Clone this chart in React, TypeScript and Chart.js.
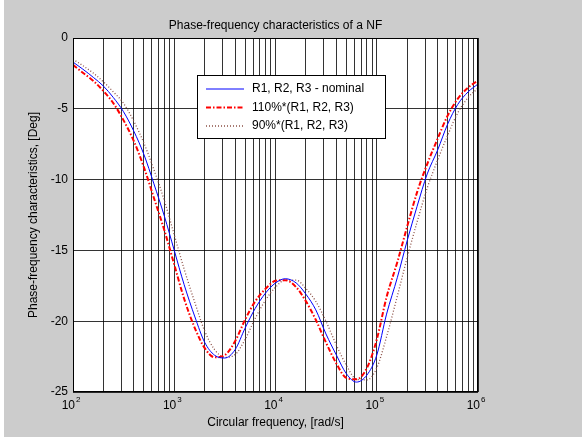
import { useEffect, useRef } from 'react';
import { Chart, registerables } from 'chart.js';

Chart.register(...registerables);

// Circular frequency, rad/s (approx. 0.1-decade steps)
const freqs = [
  100, 125, 160, 200, 250, 315, 400, 500, 630, 800,
  1000, 1250, 1600, 2000, 2500, 3150, 4000, 5000, 6300, 8000,
  10000, 12500, 16000, 20000, 25000, 31500, 40000, 50000, 63000, 80000,
  100000, 125000, 160000, 200000, 250000, 315000, 400000, 500000, 630000, 800000,
  1000000,
];

// Phase, degrees
const nominal = [
  -1.7, -2.2, -2.8, -3.4, -4.2, -5.2, -6.6, -8.2, -10.3, -12.6,
  -15.0, -17.4, -19.7, -21.5, -22.4, -22.6, -22.0, -20.5, -19.1, -18.0,
  -17.3, -17.0, -17.3, -18.1, -19.2, -20.9, -22.4, -23.7, -24.3, -23.8,
  -22.4, -19.5, -16.9, -14.3, -11.9, -9.6, -7.9, -6.1, -4.7, -3.8,
  -3.25,
];
const plus10 = [
  -1.9, -2.45, -3.05, -3.75, -4.6, -5.8, -7.3, -9.1, -11.3, -13.6,
  -16.0, -18.4, -20.5, -21.9, -22.55, -22.4, -21.4, -19.9, -18.6, -17.7,
  -17.15, -17.1, -17.6, -18.6, -19.9, -21.5, -23.0, -24.0, -24.1, -23.3,
  -21.3, -18.3, -15.8, -13.3, -10.9, -8.9, -7.1, -5.5, -4.3, -3.5,
  -3.0,
];
const minus10 = [
  -1.5, -1.95, -2.5, -3.1, -3.8, -4.6, -5.9, -7.4, -9.3, -11.5,
  -13.9, -16.3, -18.7, -20.7, -22.0, -22.55, -22.35, -21.3, -19.8, -18.5,
  -17.6, -17.1, -17.1, -17.7, -18.6, -20.0, -21.7, -23.1, -24.1, -24.15,
  -23.3, -21.1, -18.2, -15.5, -13.0, -10.6, -8.6, -6.9, -5.3, -4.2,
  -3.55,
];

const seriesLabels = ['R1, R2, R3 - nominal', '110%*(R1, R2, R3)', '90%*(R1, R2, R3)'];
const decadeValues = [100, 1000, 10000, 100000, 1000000];
const decadeExponents = ['2', '3', '4', '5', '6'];
const minorMultipliers = [1, 2, 3, 4, 5, 6, 7, 8, 9];
const yTicks = [0, -5, -10, -15, -20, -25];

const titleText = 'Phase-frequency characteristics of a NF';
const xTitle = 'Circular frequency, [rad/s]';
const yTitle = 'Phase-frequency characteristics, [Deg]';

const FONT = '"Liberation Sans", Arial, Helvetica, sans-serif';
const colors = ['#0000ff', '#ff0000', '#8c5046'];
const widths = [1, 2, 1.3];
const dashes: number[][] = [[], [5, 2, 1.5, 2], [1, 2]];

const bgPlugin = {
  id: 'matlabBg',
  beforeDraw(chart: any) {
    const { ctx, width, height, chartArea: a } = chart;
    ctx.save();
    ctx.fillStyle = '#cccccc';
    ctx.fillRect(0, 0, width, height);
    ctx.fillStyle = '#ffffff';
    ctx.fillRect(0, 0, 4, height);
    ctx.fillRect(a.left, a.top, a.right - a.left, a.bottom - a.top);
    ctx.restore();
  },
};

const textPlugin = {
  id: 'matlabText',
  afterDraw(chart: any) {
    const { ctx, chartArea: a } = chart;
    const xs = chart.scales.x;
    ctx.save();
    // frame
    ctx.strokeStyle = '#000';
    ctx.lineWidth = 1;
    ctx.setLineDash([]);
    ctx.strokeRect(Math.round(a.left) + 0.5, Math.round(a.top) + 0.5, Math.round(a.right - a.left) - 1, Math.round(a.bottom - a.top) - 1);

    ctx.fillStyle = '#000';
    // title
    ctx.font = `12px ${FONT}`;
    ctx.textAlign = 'center';
    ctx.textBaseline = 'alphabetic';
    ctx.fillText(titleText, (a.left + a.right) / 2, 29);

    // x tick labels 10^n
    decadeValues.forEach((v, i) => {
      const px = xs.getPixelForValue(v);
      ctx.font = `12px ${FONT}`;
      ctx.textAlign = 'right';
      ctx.fillText('10', px + 2, 409);
      ctx.font = `8px ${FONT}`;
      ctx.textAlign = 'left';
      ctx.fillText(decadeExponents[i], px + 3, 402);
    });

    // x title
    ctx.font = `12px ${FONT}`;
    ctx.textAlign = 'center';
    ctx.fillText(xTitle, (a.left + a.right) / 2, 426);

    // y title
    ctx.save();
    ctx.translate(34, (a.top + a.bottom) / 2);
    ctx.rotate(-Math.PI / 2);
    ctx.textBaseline = 'middle';
    ctx.fillText(yTitle, 0, 0);
    ctx.restore();

    // legend
    const bx = 197, by = 75, bw = 188, bh = 63;
    ctx.fillStyle = '#fff';
    ctx.fillRect(bx, by, bw, bh);
    ctx.strokeStyle = '#000';
    ctx.lineWidth = 1;
    ctx.strokeRect(bx + 0.5, by + 0.5, bw, bh);
    const rows = [89, 107.5, 126];
    seriesLabels.forEach((lab, i) => {
      const y = rows[i];
      ctx.strokeStyle = colors[i];
      ctx.lineWidth = widths[i];
      ctx.setLineDash(dashes[i]);
      ctx.beginPath();
      ctx.moveTo(206, y);
      ctx.lineTo(244, y);
      ctx.stroke();
      ctx.setLineDash([]);
      ctx.fillStyle = '#000';
      ctx.font = `12px ${FONT}`;
      ctx.textAlign = 'left';
      ctx.textBaseline = 'middle';
      ctx.fillText(lab, 252, y);
    });
    ctx.restore();
  },
};

export default function App() {
  const ref = useRef<HTMLCanvasElement | null>(null);

  useEffect(() => {
    if (!ref.current) return;
    const seriesValues = [nominal, plus10, minus10];
    const chart = new Chart(ref.current, {
      type: 'line',
      data: {
        datasets: seriesValues.map((vals, i) => ({
          label: seriesLabels[i],
          data: freqs.map((f, k) => ({ x: f, y: vals[k] })),
          borderColor: colors[i],
          borderWidth: widths[i],
          borderDash: dashes[i],
          pointRadius: 0,
          fill: false,
          cubicInterpolationMode: 'monotone' as const,
        })),
      },
      options: {
        animation: false,
        responsive: false,
        devicePixelRatio: 1,
        layout: { padding: { left: 0, top: 38, right: 104, bottom: 0 } },
        plugins: {
          legend: { display: false },
          tooltip: { enabled: false },
          title: { display: false },
        },
        scales: {
          x: {
            type: 'logarithmic',
            min: 100,
            max: 1000000,
            afterBuildTicks: (scale: any) => {
              const t: { value: number }[] = [];
              decadeValues.slice(0, -1).forEach((d) => minorMultipliers.forEach((m) => t.push({ value: d * m })));
              t.push({ value: decadeValues[decadeValues.length - 1] });
              scale.ticks = t;
            },
            afterFit: (scale: any) => {
              scale.height = 45;
            },
            ticks: { display: false },
            grid: { color: 'rgba(0,0,0,0.8)', lineWidth: 1, drawTicks: false },
            border: { display: false },
          },
          y: {
            type: 'linear',
            min: -25,
            max: 0,
            afterBuildTicks: (scale: any) => {
              scale.ticks = yTicks.map((v) => ({ value: v }));
            },
            afterFit: (scale: any) => {
              scale.width = 73;
            },
            ticks: {
              color: '#000',
              font: { family: FONT, size: 12 },
              padding: 5,
              callback: (v: any) => String(v),
            },
            grid: { color: 'rgba(0,0,0,0.8)', lineWidth: 1, drawTicks: false },
            border: { display: false },
          },
        },
      },
      plugins: [bgPlugin, textPlugin],
    });
    return () => chart.destroy();
  }, []);

  return (
    <div style={{ position: 'absolute', left: 0, top: 0, width: 582, height: 437 }}>
      <canvas ref={ref} width={582} height={437} style={{ display: 'block' }} />
    </div>
  );
}
